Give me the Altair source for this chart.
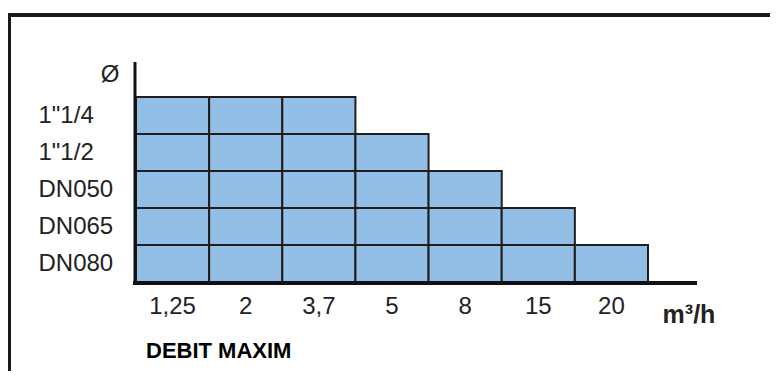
import altair as alt
import pandas as pd

# Pipe sizes (top to bottom) and max flow categories (left to right)
sizes = ['1"1/4', '1"1/2', 'DN050', 'DN065', 'DN080']
flows = ['1,25', '2', '3,7', '5', '8', '15', '20']
# highest flow reached by each size
max_flow = ['3,7', '5', '8', '15', '20']

records = []
for s, m in zip(sizes, max_flow):
    for f in flows[: flows.index(m) + 1]:
        records.append({"size": s, "flow": f})
df = pd.DataFrame(records)

FONT = "Liberation Sans"
W, H = 512, 185

x_scale = alt.Scale(domain=flows, paddingInner=0, paddingOuter=0)
y_scale = alt.Scale(domain=sizes, paddingInner=0, paddingOuter=0)

cells = alt.Chart(df).mark_rect(
    fill="#93bee6", stroke="#1e1e1e", strokeWidth=2
).encode(
    x=alt.X("flow:N", scale=x_scale, sort=flows,
            axis=alt.Axis(title=None, labelAngle=0, domain=False, ticks=False,
                          tickSize=0, labelPadding=12, labelFontSize=24,
                          labelFont=FONT, labelColor="#222", grid=False)),
    y=alt.Y("size:N", scale=y_scale, sort=sizes,
            axis=alt.Axis(title=None, domain=False, ticks=False, tickSize=0,
                          labelAlign="left", labelPadding=98, labelFontSize=24,
                          labelFont=FONT, labelColor="#222", grid=False)),
)

one = pd.DataFrame({"k": [0]})

y_axis_line = alt.Chart(one).mark_rule(color="#111", strokeWidth=3).encode(
    x=alt.value(-1), y=alt.value(-35), y2=alt.value(187)
)
x_axis_line = alt.Chart(one).mark_rule(color="#111", strokeWidth=4).encode(
    x=alt.value(-3), x2=alt.value(561), y=alt.value(186)
)

frame = alt.Chart(one).mark_rect(
    fillOpacity=0, stroke="#1a1a1a", strokeWidth=4
).encode(
    x=alt.value(-127), x2=alt.value(700), y=alt.value(-82), y2=alt.value(400)
)

phi = alt.Chart(one).mark_text(
    text="Ø", font=FONT, fontSize=24, color="#222", align="center", baseline="middle"
).encode(x=alt.value(-26), y=alt.value(-22))

unit = alt.Chart(one).mark_text(
    text="m³/h", font=FONT, fontSize=25, fontWeight="bold", color="#222",
    align="center", baseline="alphabetic"
).encode(x=alt.value(553), y=alt.value(226))

title = alt.Chart(one).mark_text(
    text="DEBIT MAXIM", font=FONT, fontSize=22, fontWeight="bold", color="#000",
    align="left", baseline="alphabetic"
).encode(x=alt.value(10), y=alt.value(261))

chart = alt.layer(frame, cells, y_axis_line, x_axis_line, phi, unit, title).properties(
    width=W, height=H,
    background="white",
    autosize=alt.AutoSizeParams(type="none"),
    padding={"left": 128, "top": 89, "right": 122, "bottom": 89},
).configure_view(strokeWidth=0)

chart.save("out.html", embed_options={"renderer": "svg", "actions": False})
